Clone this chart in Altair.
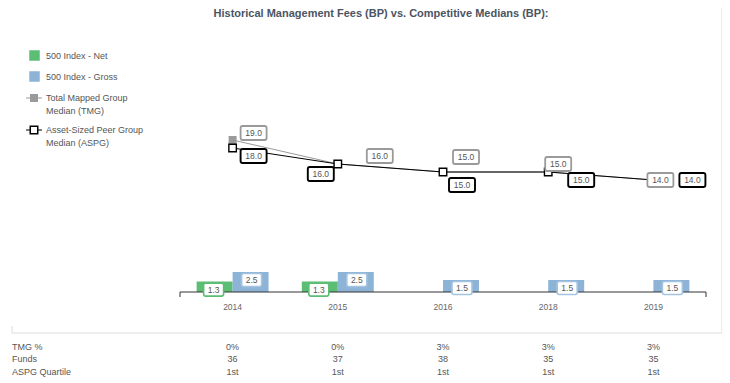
import altair as alt
import pandas as pd

# ---------------- data ----------------
years = ["2014", "2015", "2016", "2018", "2019"]
net_fee = [1.3, 1.3, None, None, None]
gross_fee = [2.5, 2.5, 1.5, 1.5, 1.5]
tmg_median = [19.0, 16.0, 15.0, 15.0, 14.0]
aspg_median = [18.0, 16.0, 15.0, 15.0, 14.0]
tmg_pct = ["0%", "0%", "3%", "3%", "3%"]
funds = ["36", "37", "38", "35", "35"]
aspg_quartile = ["1st", "1st", "1st", "1st", "1st"]

# ---------------- style ----------------
FONT = "Liberation Sans"
GREEN = "#5cbd74"
BLUE = "#8db4d7"
BLUE_BORDER = "#a3c3e1"
GRAY = "#9a9a9a"
TXT = "#555555"
# label nudges (pixels) relative to each point, mimicking the original label placement
TMG_NUDGE = [(21, -7), (42, -8), (23, -15), (10, -8), (7, 0)]
ASPG_NUDGE = [(21, 8), (-17, 10), (19, 13), (33, 8), (39, 0)]

K = 10  # custom symbol scale: sqrt(size)/2
SYM_SIZE = (2 * K) ** 2


def box_path(w, h, r, ox=0.0, oy=0.0):
    x0, x1 = (ox - w / 2) / K, (ox + w / 2) / K
    y0, y1 = (oy - h / 2) / K, (oy + h / 2) / K
    rr = r / K
    return (f"M{x0+rr:.3f},{y0:.3f}H{x1-rr:.3f}Q{x1:.3f},{y0:.3f} {x1:.3f},{y0+rr:.3f}"
            f"V{y1-rr:.3f}Q{x1:.3f},{y1:.3f} {x1-rr:.3f},{y1:.3f}H{x0+rr:.3f}"
            f"Q{x0:.3f},{y1:.3f} {x0:.3f},{y1-rr:.3f}V{y0+rr:.3f}Q{x0:.3f},{y0:.3f} {x0+rr:.3f},{y0:.3f}Z")


XSCALE = alt.Scale(domain=years, range=[172, 698], paddingInner=0.316, paddingOuter=0.158)
YSCALE = alt.Scale(domain=[0, 32], range=[284, 28], nice=False, zero=True)


def X():
    return alt.X("year:N", scale=XSCALE, axis=None)


def Y(field="value"):
    return alt.Y(f"{field}:Q", scale=YSCALE, axis=None)


one = pd.DataFrame({"k": [0]})

# ---------------- tables ----------------
bars_df = pd.DataFrame(
    [{"year": y, "series": "Net", "value": v} for y, v in zip(years, net_fee) if v is not None]
    + [{"year": y, "series": "Gross", "value": v} for y, v in zip(years, gross_fee) if v is not None]
)
tmg_df = pd.DataFrame({"year": years, "value": tmg_median})
aspg_df = pd.DataFrame({"year": years, "value": aspg_median})
table_df = pd.DataFrame({"year": years, "tmg": tmg_pct, "funds": funds, "q": aspg_quartile})

layers = []


def rule(x, x2, y, y2, color, w=1):
    return alt.Chart(one).mark_rule(color=color, strokeWidth=w).encode(
        x=alt.value(x), x2=alt.value(x2), y=alt.value(y), y2=alt.value(y2))


# frame
layers.append(rule(4, 714, 325, 325, "#dddddd"))
layers.append(rule(714, 714, -8, 325, "#dddddd"))
layers.append(rule(4, 4, 318, 325, "#dddddd"))

# bars
bars = alt.Chart(bars_df).mark_bar().encode(
    x=X(),
    xOffset=alt.XOffset("series:N", scale=alt.Scale(domain=["Net", "Gross"], paddingInner=0, paddingOuter=0)),
    y=Y(),
    color=alt.Color("series:N", scale=alt.Scale(domain=["Net", "Gross"], range=[GREEN, BLUE]), legend=None),
)
layers.append(bars)

# axis baseline with end caps
layers.append(rule(172, 698, 284, 284, "#333333"))
layers.append(rule(172, 172, 284, 289, "#333333"))
layers.append(rule(698, 698, 284, 289, "#333333"))

# bar labels
for series, dx, border in [("Net", -19, GREEN), ("Gross", 19, BLUE_BORDER)]:
    d = bars_df[bars_df.series == series]
    base = alt.Chart(d).encode(x=X(), y=Y())
    layers.append(base.mark_point(shape=box_path(20, 13, 2, dx, 8), size=SYM_SIZE, filled=True,
                                  fill="white", stroke=border, strokeWidth=1.6, opacity=1))
    layers.append(base.mark_text(dx=dx, dy=8, font=FONT, fontSize=8.5, color=TXT).encode(
        text=alt.Text("value:Q", format=".1f")))

# lines & points
layers.append(alt.Chart(tmg_df).mark_line(color=GRAY, strokeWidth=1).encode(x=X(), y=Y()))
layers.append(alt.Chart(tmg_df).mark_point(shape="square", size=64, filled=True, color=GRAY, opacity=1)
              .encode(x=X(), y=Y()))
layers.append(alt.Chart(aspg_df).mark_line(color="black", strokeWidth=1).encode(x=X(), y=Y()))
layers.append(alt.Chart(aspg_df).mark_point(shape="square", size=56, filled=True, fill="white",
                                            stroke="black", strokeWidth=1.4, opacity=1)
              .encode(x=X(), y=Y()))

# line labels
for df, nudges, border, sw in [(tmg_df, TMG_NUDGE, GRAY, 1.8), (aspg_df, ASPG_NUDGE, "black", 1.9)]:
    for (yr, (dx, dy)) in zip(years, nudges):
        d = df[df.year == yr]
        base = alt.Chart(d).encode(x=X(), y=Y())
        layers.append(base.mark_point(shape=box_path(26, 14, 2, dx, dy), size=SYM_SIZE, filled=True,
                                      fill="white", stroke=border, strokeWidth=sw, opacity=1))
        layers.append(base.mark_text(dx=dx, dy=dy, font=FONT, fontSize=8.5, color=TXT).encode(
            text=alt.Text("value:Q", format=".1f")))

# year labels
layers.append(alt.Chart(table_df).mark_text(font=FONT, fontSize=8.5, color="#666666").encode(
    x=X(), y=alt.value(299), text="year:N"))

# data table under the chart
for i, (lab, col) in enumerate([("TMG %", "tmg"), ("Funds", "funds"), ("ASPG Quartile", "q")]):
    yy = 339 + i * 12.3
    layers.append(alt.Chart(one).mark_text(font=FONT, fontSize=9, color=TXT, align="left").encode(
        x=alt.value(4), y=alt.value(yy), text=alt.value(lab)))
    layers.append(alt.Chart(table_df).mark_text(font=FONT, fontSize=9, color=TXT).encode(
        x=X(), y=alt.value(yy), text=f"{col}:N"))


# legend
def ltext(x, y, t):
    return alt.Chart(one).mark_text(font=FONT, fontSize=9, color=TXT, align="left").encode(
        x=alt.value(x), y=alt.value(y), text=alt.value(t))


layers.append(alt.Chart(one).mark_square(size=110, color=GREEN, opacity=1).encode(x=alt.value(26.5), y=alt.value(47.5)))
layers.append(ltext(38, 47.5, "500 Index - Net"))
layers.append(alt.Chart(one).mark_square(size=110, color=BLUE, opacity=1).encode(x=alt.value(26.5), y=alt.value(68.5)))
layers.append(ltext(38, 68.5, "500 Index - Gross"))
layers.append(rule(18, 34, 90, 90, GRAY))
layers.append(alt.Chart(one).mark_square(size=64, color=GRAY, opacity=1).encode(x=alt.value(26), y=alt.value(90)))
layers.append(ltext(38, 90, "Total Mapped Group"))
layers.append(ltext(38, 103, "Median (TMG)"))
layers.append(rule(18, 34, 122, 122, "black"))
layers.append(alt.Chart(one).mark_square(size=56, filled=True, fill="white", stroke="black", strokeWidth=1.5, opacity=1)
              .encode(x=alt.value(26), y=alt.value(122)))
layers.append(ltext(38, 122, "Asset-Sized Peer Group"))
layers.append(ltext(38, 135, "Median (ASPG)"))

# title
layers.append(alt.Chart(one).mark_text(font=FONT, fontSize=11, fontWeight="bold", color="#4a5563",
                                       baseline="alphabetic").encode(
    x=alt.value(373), y=alt.value(8.5),
    text=alt.value("Historical Management Fees (BP) vs. Competitive Medians (BP):")))

chart = alt.layer(*layers).properties(
    width=714, height=375, autosize=alt.AutoSizeParams(type="none"), padding=0
).configure_view(stroke=None)

chart.save("out.html", embed_options={"renderer": "svg", "actions": False})
